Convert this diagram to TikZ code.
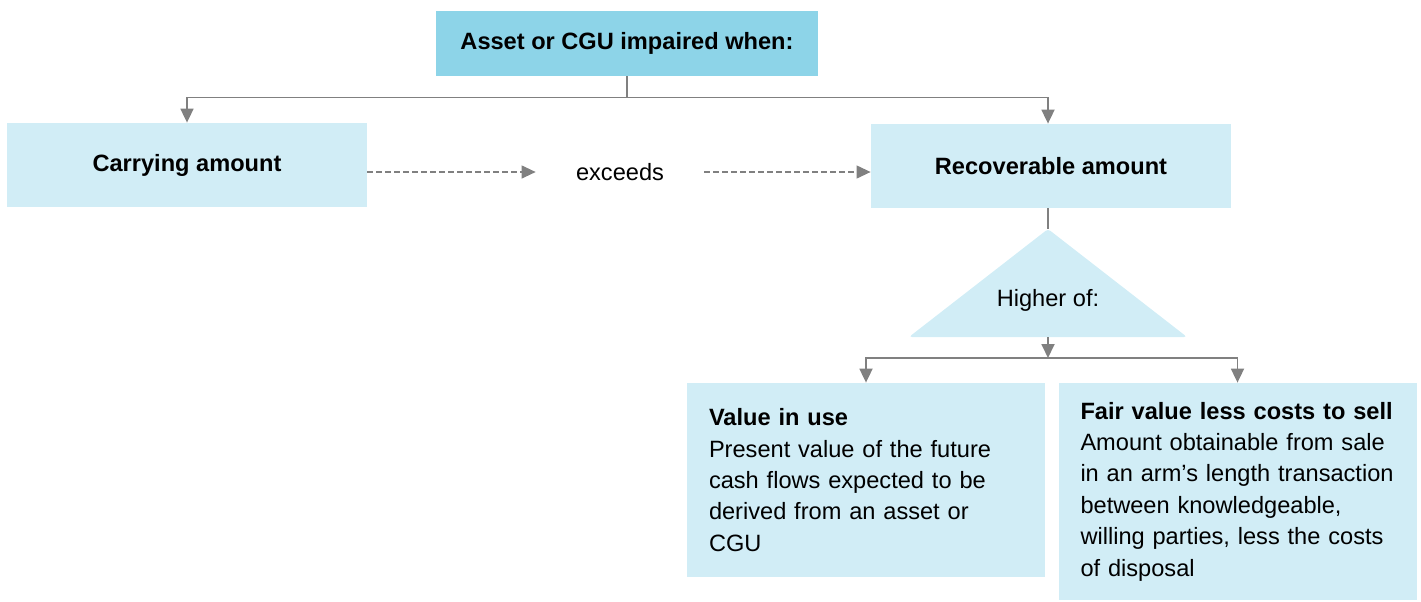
\documentclass[tikz,border=0pt]{standalone}
\usepackage{fontspec}
\setmainfont{Liberation Sans}
\usetikzlibrary{arrows.meta}
\definecolor{headblue}{HTML}{8DD4E8}
\definecolor{boxblue}{HTML}{D1EDF6}
\definecolor{linegray}{HTML}{808080}
\begin{document}
\begin{tikzpicture}[x=0.5pt,y=-0.5pt,
        every node/.style={font=\fontsize{11.8}{15.7}\selectfont},
        box/.style={fill=boxblue,inner sep=0pt,minimum width=180pt,minimum height=42pt},
        textbox/.style={fill=boxblue,inner xsep=11pt,inner ysep=0pt,align=left,text width=157pt},
        link/.style={draw=linegray,line width=0.9pt},
        tip/.style={link,-{Triangle[length=7pt,width=6.5pt]}},
        dashtip/.style={draw=linegray,line width=0.6pt,dash pattern=on 3pt off 1.5pt,-{Triangle[length=7pt,width=6.5pt]}}]
        \useasboundingbox (0,0) rectangle (1421,601);

        % top row
        \node[fill=headblue,inner sep=0pt,minimum width=191pt,minimum height=32.5pt,font=\fontsize{11.8}{15.7}\selectfont\bfseries] (top) at (627,43.5) {Asset or CGU impaired when:};
        \node[box,font=\fontsize{11.8}{15.7}\selectfont\bfseries] (carry) at (187,165) {Carrying amount};
        \node[box,font=\fontsize{11.8}{15.7}\selectfont\bfseries] (rec) at (1051,166) {Recoverable amount};
        \node[inner xsep=20pt] (exceeds) at (620,172) {exceeds};

        % higher of
        \coordinate (apex) at (1048,229);
        \coordinate (base) at (1048,337);
        \coordinate (split) at (1048,358);
        \fill[boxblue,rounded corners=1.5pt] (apex) -- (1187,337) -- (909,337) -- cycle;
        \node (higher) at (1048,300) {Higher of:};

        \draw[link] (top.south) -- ++(0,21) coordinate (fork);
        \draw[tip] (fork) -| (carry.north);
        \draw[tip] (fork) -| (apex |- rec.north);
        \draw[dashtip] (carry.east |- exceeds.west) -- (exceeds.west);
        \draw[dashtip] (exceeds.east) -- (rec.west |- exceeds.east);
        \draw[link] (apex |- rec.south) -- (apex);
        \draw[tip] (base) -- (split);

        % the two measures
        \node[textbox,minimum height=97pt] (viu) at (866,480) {\textbf{Value in use}\\Present value of the future\\cash flows expected to be\\derived from an asset or\\CGU};
        \node[textbox,minimum height=108.5pt] (fv) at (1237.5,491.5) {\mbox{\textbf{Fair value less costs to sell}}\\Amount obtainable from sale\\\mbox{in an arm’s length transaction}\\between knowledgeable,\\willing parties, less the costs\\of disposal};
        \draw[tip] (split) -| (viu.north);
        \draw[tip] (split) -| (fv.north);
    \end{tikzpicture}
\end{document}
